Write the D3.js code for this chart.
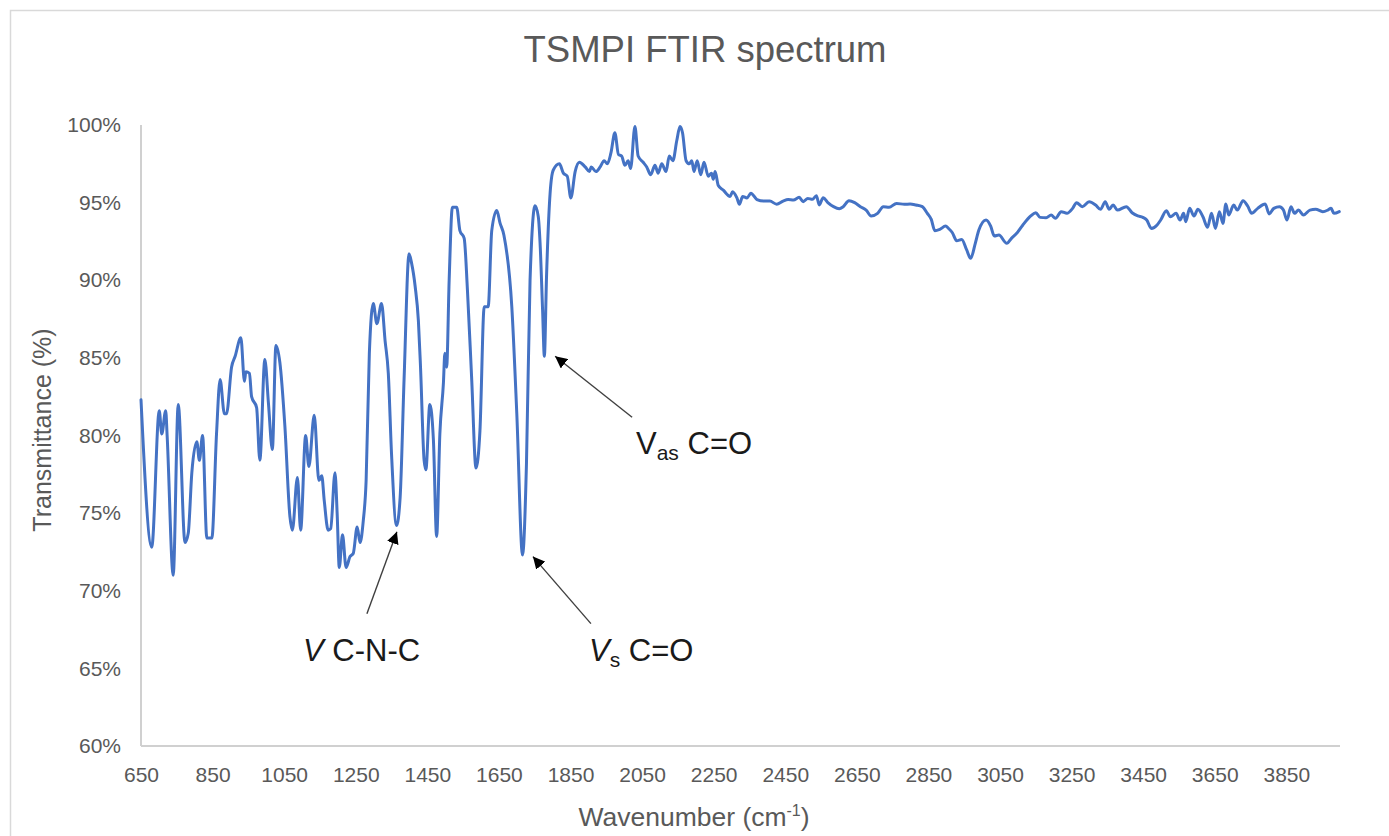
<!DOCTYPE html>
<html>
<head>
<meta charset="utf-8">
<script src="https://cdn.jsdelivr.net/npm/d3@7"></script>
<style>
  html, body { margin: 0; padding: 0; background: #fff; }
  svg { display: block; font-family: "Liberation Sans", Arial, Helvetica, sans-serif; }
</style>
</head>
<body>
<svg id="chart" width="1389" height="836"></svg>
<script>
// ---------------- DATA ----------------
const chartTitle = "TSMPI FTIR spectrum";
const yAxisTitle = "Transmittance (%)";
const xTicks = [650, 850, 1050, 1250, 1450, 1650, 1850, 2050, 2250, 2450, 2650, 2850, 3050, 3250, 3450, 3650, 3850];
const yTicks = [60, 65, 70, 75, 80, 85, 90, 95, 100];

const wavenumber = [
  650, 680, 701, 708, 719, 723, 740, 754, 773, 782, 792, 806, 813, 822, 834, 848, 861, 871, 883, 889,
  903, 913, 929, 939, 943, 953, 959, 973, 982, 996, 1006, 1017, 1027, 1038, 1052, 1066, 1073, 1087, 1096, 1110,
  1119, 1134, 1147, 1155, 1162, 1173, 1180, 1192, 1198, 1204, 1213, 1223, 1234, 1243, 1254, 1262, 1271, 1279, 1288, 1299,
  1309, 1322, 1332, 1341, 1350, 1364, 1374, 1385, 1399, 1406, 1416, 1425, 1431, 1441, 1446, 1457, 1467, 1476, 1485, 1495,
  1499, 1504, 1511, 1520, 1532, 1541, 1553, 1562, 1574, 1586, 1597, 1609, 1620, 1630, 1644, 1653, 1664, 1686, 1700, 1716,
  1727, 1737, 1751, 1760, 1765, 1772, 1777, 1783, 1793, 1802, 1819, 1830, 1841, 1851, 1863, 1875, 1891, 1903, 1908, 1921,
  1933, 1944, 1953, 1963, 1974, 1984, 1993, 2002, 2011, 2018, 2030, 2039, 2053, 2063, 2074, 2086, 2095, 2105, 2117, 2126,
  2136, 2147, 2156, 2163, 2173, 2182, 2189, 2195, 2204, 2214, 2223, 2235, 2244, 2249, 2254, 2263, 2277, 2296, 2303, 2315,
  2322, 2331, 2343, 2354, 2371, 2390, 2407, 2426, 2444, 2458, 2473, 2489, 2500, 2513, 2526, 2537, 2545, 2556, 2569, 2585,
  2601, 2612, 2628, 2644, 2660, 2676, 2690, 2708, 2724, 2740, 2761, 2783, 2799, 2815, 2833, 2847, 2858, 2868, 2882, 2898,
  2906, 2917, 2929, 2943, 2957, 2968, 2981, 2991, 3011, 3024, 3034, 3047, 3069, 3082, 3098, 3114, 3136, 3150, 3162, 3179,
  3193, 3205, 3221, 3237, 3253, 3264, 3280, 3299, 3317, 3331, 3344, 3355, 3366, 3378, 3403, 3419, 3435, 3449, 3460, 3473,
  3489, 3499, 3515, 3526, 3542, 3553, 3563, 3569, 3580, 3592, 3603, 3617, 3630, 3641, 3652, 3663, 3673, 3681, 3689, 3703,
  3713, 3729, 3742, 3753, 3770, 3791, 3802, 3815, 3831, 3842, 3852, 3863, 3873, 3884, 3898, 3916, 3932, 3952, 3966, 3975,
  3983, 3998
];
const transmittance = [
  82.3, 72.8, 81.6, 80.1, 81.6, 80.0, 71.0, 82.0, 73.1, 73.7, 77.6, 79.6, 78.4, 80.0, 73.4, 73.4, 80.1, 83.6, 81.4, 81.4,
  84.4, 85.1, 86.3, 83.5, 84.1, 84.0, 82.5, 81.8, 78.4, 84.9, 82.1, 79.1, 85.8, 84.7, 80.6, 74.8, 73.9, 77.3, 73.9, 80.0,
  78.0, 81.3, 77.1, 77.4, 75.8, 73.9, 74.0, 77.6, 75.0, 71.5, 73.6, 71.5, 72.2, 72.4, 74.1, 73.1, 74.5, 77.1, 85.3, 88.5,
  87.2, 88.5, 86.1, 84.0, 78.8, 74.2, 76.0, 83.6, 91.7, 91.1, 89.6, 87.4, 84.4, 78.4, 77.8, 82.0, 79.7, 73.5, 80.1, 83.4,
  85.3, 84.4, 90.0, 94.7, 94.7, 93.2, 92.7, 89.4, 83.6, 77.9, 80.3, 88.3, 88.3, 93.2, 94.5, 93.7, 92.9, 88.3, 81.4, 72.3,
  78.2, 90.0, 94.8, 94.1, 92.4, 88.1, 85.1, 90.2, 95.6, 97.1, 97.5, 96.9, 96.7, 95.3, 97.0, 97.6, 97.3, 97.0, 97.3, 97.0,
  97.3, 97.7, 97.5, 98.2, 99.5, 98.1, 98.0, 97.4, 97.7, 97.2, 99.9, 98.0, 97.6, 97.3, 96.8, 97.4, 96.9, 97.5, 97.0, 98.0,
  97.7, 99.0, 99.9, 99.5, 97.7, 97.5, 97.7, 97.0, 97.7, 96.8, 97.6, 96.7, 96.9, 96.5, 97.0, 96.1, 95.8, 95.4, 95.7, 95.3,
  94.9, 95.4, 95.3, 95.6, 95.2, 95.1, 95.1, 94.9, 95.1, 95.2, 95.17, 95.34, 95.06, 95.27, 95.21, 95.45, 94.85, 95.32, 95.0, 94.74,
  94.61, 94.74, 95.12, 95.0, 94.74, 94.52, 94.14, 94.31, 94.74, 94.70, 94.95, 94.89, 94.91, 94.85, 94.74, 94.31, 93.92, 93.19, 93.28, 93.49,
  93.34, 93.06, 92.55, 92.63, 91.95, 91.41, 92.38, 93.23, 93.88, 93.49, 92.85, 92.91, 92.38, 92.70, 93.06, 93.56, 94.14, 94.35, 94.05, 94.03,
  94.20, 93.99, 94.42, 94.31, 94.63, 95.0, 94.74, 95.06, 94.85, 94.57, 95.06, 94.57, 94.85, 94.52, 94.74, 94.35, 94.14, 94.05, 93.88, 93.34,
  93.56, 93.88, 94.48, 94.09, 94.31, 93.88, 94.31, 93.77, 94.63, 94.14, 94.57, 94.09, 93.41, 94.31, 93.34, 94.42, 93.66, 94.91, 94.20, 94.85,
  94.52, 95.12, 94.78, 94.31, 94.63, 94.91, 94.27, 94.63, 94.74, 94.52, 93.88, 94.74, 94.31, 94.52, 94.20, 94.52, 94.57, 94.42, 94.52, 94.63,
  94.31, 94.42
];

// annotation labels: main text, subscript, rest, and the band they point at
const annoMain = ["V", "V", "V"];
const annoSub = ["", "s", "as"];
const annoRest = [" C-N-C", " C=O", " C=O"];
const annoItalic = [true, true, false];
const annoBand = [[1365, 73.8], [1745, 72.2], [1807, 85.1]];

// ---------------- LAYOUT ----------------
const W = 1389, H = 836;
const plot = { left: 141, right: 1340, top: 125, bottom: 746 };
const svg = d3.select("#chart");

// outer frame (light border of the chart object)
svg.append("path")
  .attr("d", `M10.5,${H} L10.5,10.5 L${W},10.5`)
  .attr("fill", "none").attr("stroke", "#d9d9d9").attr("stroke-width", 1.5);

const x = d3.scaleLinear().domain([650, 4000]).range([plot.left, plot.right]);
const y = d3.scaleLinear().domain([60, 100]).range([plot.bottom, plot.top]);

const tickColor = "#595959";
const tickFont = 21;

// axes
const xAxis = svg.append("g").attr("transform", `translate(0,${plot.bottom})`)
  .call(d3.axisBottom(x).tickValues(xTicks).tickSize(0).tickPadding(21).tickFormat(d3.format("d")));
xAxis.select(".domain").remove();
xAxis.selectAll("text").attr("fill", tickColor).style("font-size", tickFont + "px")
  .style("font-family", "'Liberation Sans', Arial, sans-serif");

const yAxis = svg.append("g").attr("transform", `translate(${plot.left},0)`)
  .call(d3.axisLeft(y).tickValues(yTicks).tickSize(0).tickPadding(20).tickFormat(d => d + "%"));
yAxis.select(".domain").remove();
yAxis.selectAll("text").attr("fill", tickColor).style("font-size", tickFont + "px")
  .style("font-family", "'Liberation Sans', Arial, sans-serif");

// axis lines
svg.append("line").attr("x1", plot.left).attr("x2", plot.right)
  .attr("y1", plot.bottom).attr("y2", plot.bottom)
  .attr("stroke", "#d0d0d0").attr("stroke-width", 2);
svg.append("line").attr("x1", plot.left).attr("x2", plot.left)
  .attr("y1", plot.top).attr("y2", plot.bottom)
  .attr("stroke", "#d0d0d0").attr("stroke-width", 2);

// spectrum line
const pts = wavenumber.map((w, i) => [w, transmittance[i]]);
const line = d3.line().x(d => x(d[0])).y(d => y(d[1])).curve(d3.curveMonotoneX);
svg.append("path").datum(pts)
  .attr("d", line)
  .attr("fill", "none")
  .attr("stroke", "#4472C4")
  .attr("stroke-width", 3)
  .attr("stroke-linejoin", "round")
  .attr("stroke-linecap", "round");

// title
svg.append("text").attr("x", 705).attr("y", 62).attr("text-anchor", "middle")
  .attr("fill", tickColor).style("font-size", "36.5px").text(chartTitle);

// y axis title
svg.append("text").attr("transform", "translate(51,430) rotate(-90)")
  .attr("text-anchor", "middle").attr("fill", tickColor).style("font-size", "25px")
  .text(yAxisTitle);

// x axis title with superscript
const xt = svg.append("text").attr("x", 694).attr("y", 826).attr("text-anchor", "middle")
  .attr("fill", tickColor).style("font-size", "26.5px");
xt.append("tspan").text("Wavenumber (cm");
xt.append("tspan").attr("dy", -10).style("font-size", "16px").text("-1");
xt.append("tspan").attr("dy", 10).text(")");

// annotations (arrow tip offsets and label placements in pixels)
const defs = svg.append("defs");
defs.append("marker").attr("id", "arrowHead")
  .attr("viewBox", "0 0 10 10").attr("refX", 10).attr("refY", 5)
  .attr("markerWidth", 12).attr("markerHeight", 12).attr("markerUnits", "userSpaceOnUse")
  .attr("orient", "auto")
  .append("path").attr("d", "M0,0 L10,5 L0,10 z").attr("fill", "#000");

const tailOffsets = [[-30, 82], [58, 67], [77, 61]];
const labelPos = [[303, 661], [589, 661], [636, 454]];
annoBand.forEach((b, i) => {
  const tx = x(b[0]), ty = y(b[1]);
  const [dx, dy] = tailOffsets[i];
  svg.append("line")
    .attr("x1", tx + dx).attr("y1", ty + dy)
    .attr("x2", tx).attr("y2", ty)
    .attr("stroke", "#404040").attr("stroke-width", 1.4)
    .attr("marker-end", "url(#arrowHead)");
  const t = svg.append("text").attr("x", labelPos[i][0]).attr("y", labelPos[i][1])
    .attr("fill", "#1a1a1a").style("font-size", "31px");
  t.append("tspan").style("font-style", annoItalic[i] ? "italic" : "normal").text(annoMain[i]);
  if (annoSub[i]) {
    t.append("tspan").attr("dy", 6).style("font-size", "21px").text(annoSub[i]);
    t.append("tspan").attr("dy", -6).text(annoRest[i]);
  } else {
    t.append("tspan").text(annoRest[i]);
  }
});
</script>
</body>
</html>
